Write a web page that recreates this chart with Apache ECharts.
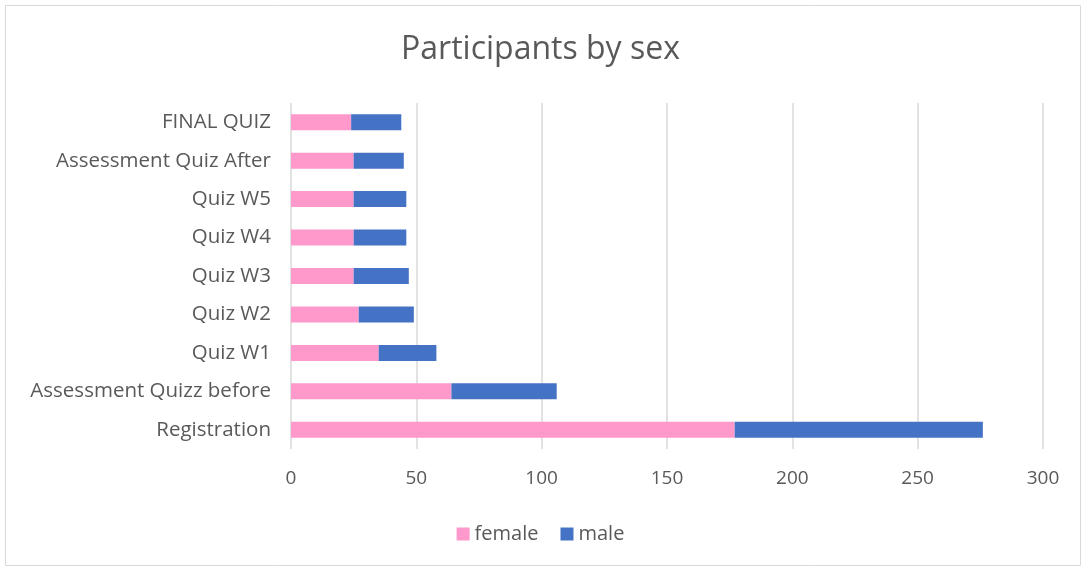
<!DOCTYPE html>
<html>
<head>
<meta charset="utf-8">
<script src="https://cdn.jsdelivr.net/npm/echarts@6/dist/echarts.min.js"></script>
<style>
  html, body { margin: 0; padding: 0; background: #fff; }
  #chart { width: 1081px; height: 570px; }
</style>
</head>
<body>
<div id="chart"></div>
<script>
// categories, bottom to top (as drawn on the y axis)
const categories = ['Registration', 'Assessment Quizz before', 'Quiz W1', 'Quiz W2', 'Quiz W3', 'Quiz W4', 'Quiz W5', 'Assessment Quiz After', 'FINAL QUIZ'];
const female = [177, 64, 35, 27, 25, 25, 25, 25, 24];
const male = [99, 42, 23, 22, 22, 21, 21, 20, 20];

const textColor = '#595959';
const font = 'Open Sans';

const chart = echarts.init(document.getElementById('chart'));
chart.setOption({
  animation: false,
  title: {
    text: 'Participants by sex',
    left: 'center',
    top: 29,
    textStyle: { fontFamily: font, fontSize: 32, fontWeight: 'normal', color: textColor }
  },
  legend: {
    bottom: 21,
    left: 'center',
    itemWidth: 13,
    itemHeight: 13,
    itemGap: 22,
    icon: 'rect',
    textStyle: { fontFamily: font, fontSize: 20, color: textColor }
  },
  grid: { left: 291, right: 38, top: 103, bottom: 121 },
  xAxis: {
    type: 'value',
    min: 0,
    max: 300,
    interval: 50,
    axisLine: { show: false },
    axisTick: { show: false },
    axisLabel: { fontFamily: font, fontSize: 19, color: textColor, margin: 20 },
    splitLine: { lineStyle: { color: '#d9d9d9', width: 1.5 } }
  },
  yAxis: {
    type: 'category',
    data: categories,
    axisLine: { show: false },
    axisTick: { show: false },
    axisLabel: { fontFamily: font, fontSize: 20.5, color: textColor, margin: 20 }
  },
  series: [
    { name: 'female', type: 'bar', stack: 'all', data: female, barWidth: 16, itemStyle: { color: '#ff99cc' } },
    { name: 'male', type: 'bar', stack: 'all', data: male, barWidth: 16, itemStyle: { color: '#4472c4' } }
  ],
  graphic: [{
    type: 'rect',
    shape: { x: 5.5, y: 5.5, width: 1075, height: 560 },
    style: { fill: 'none', stroke: '#d9d9d9', lineWidth: 1 },
    silent: true
  }]
});
</script>
</body>
</html>
